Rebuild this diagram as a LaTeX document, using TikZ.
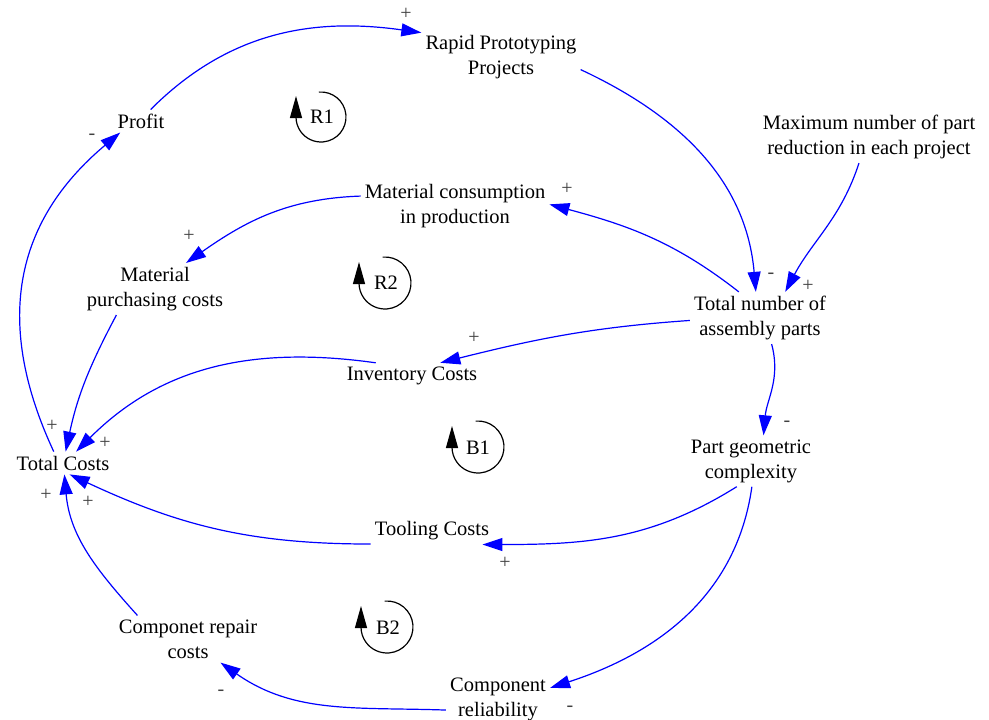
\documentclass[tikz,border=0pt]{standalone}
\usepackage{fontspec}
\setmainfont{Liberation Serif}
\usetikzlibrary{arrows.meta}
\begin{document}
\begin{tikzpicture}[x=1pt,y=1pt,
  var/.style={font=\fontsize{20.5}{25}\selectfont, align=center, inner sep=4pt},
  link/.style={draw=blue, line width=1.2pt, -{Triangle[length=20pt,width=13pt]}},
  sgn/.style={font=\fontsize{20}{24}\selectfont, text=black!75, inner sep=0pt},
  loopsym/.style={line width=1.2pt, -{Triangle[length=22pt,width=12pt]}},
  looplbl/.style={font=\fontsize{20.5}{25}\selectfont, inner sep=0pt}
]
\useasboundingbox (0,0) rectangle (989,-720);

% variables
\node[var] (rpp)    at (501,-57)  {Rapid Prototyping\\Projects};
\node[var] (profit) at (141,-121) {Profit};
\node[var] (maxn)   at (869,-137) {Maximum number of part\\reduction in each project};
\node[var] (matc)   at (455,-206) {Material consumption\\in production};
\node[var] (matp)   at (155,-289) {Material\\purchasing costs};
\node[var] (tnap)   at (760,-318) {Total number of\\assembly parts};
\node[var] (inv)    at (412,-376) {Inventory Costs};
\node[var] (tc)     at (63,-463)  {Total Costs};
\node[var] (pgc)    at (751,-461) {Part geometric\\complexity};
\node[var] (tool)   at (432,-531) {Tooling Costs};
\node[var] (crc)    at (188,-639) {Componet repair\\costs};
\node[var] (cr)     at (498,-699) {Component\\reliability};

% causal links
\draw[link] (profit.50)  to[out=45,in=172]   (rpp.163);
\draw[link] (rpp.-9)     to[out=-25,in=95]   (tnap.99);
\draw[link] (maxn.-111)  to[out=-108,in=62]  (tnap.46);
\draw[link] (tnap.129)   to[out=142,in=-15]  (matc.1);
\draw[link] (matc.174)   to[out=182,in=35]   (matp.40);
\draw[link] (matp.-146)  to[out=-118,in=78]  (tc.77);
\draw[link] (tnap.182)   to[out=184,in=14]   (inv.25);
\draw[link] (inv.160)    to[out=172,in=45]   (tc.41);
\draw[link] (tnap.-66)   to[out=-75,in=85]   (pgc.64);
\draw[link] (tc.129)     to[out=115,in=-140,looseness=1.1] (profit.-151);
\draw[link] (pgc.-119)   to[out=-148,in=0]   (tool.-15);
\draw[link] (tool.-168)  to[out=180,in=-25]  (tc.-60);
\draw[link] (pgc.-88)    to[out=-98,in=18]   (cr.12);
\draw[link] (cr.-168)    to[out=178,in=-35]  (crc.-36);
\draw[link] (crc.155)    to[out=132,in=-85]  (tc.-83);

% link polarities
\node[sgn] (s1)  at (406,-14)  {+};
\node[sgn] (s2)  at (771,-276) {-};
\node[sgn] (s3)  at (808,-286) {+};
\node[sgn] (s4)  at (567,-189) {+};
\node[sgn] (s5)  at (189,-236) {+};
\node[sgn] (s6)  at (52,-426)  {+};
\node[sgn] (s7)  at (474,-338) {+};
\node[sgn] (s8)  at (105,-443) {+};
\node[sgn] (s9)  at (787,-424) {-};
\node[sgn] (s10) at (92,-137)  {-};
\node[sgn] (s11) at (505,-563) {+};
\node[sgn] (s12) at (88,-502)  {+};
\node[sgn] (s13) at (570,-709) {-};
\node[sgn] (s14) at (221,-693) {-};
\node[sgn] (s15) at (46,-495)  {+};

% loop identifiers
\draw[loopsym] (321,-117) ++(95:25) arc[start angle=95,end angle=-180,radius=25] -- ++(0,21);
\node[looplbl] (r1) at (322,-117) {R1};
\draw[loopsym] (385,-283) ++(95:26) arc[start angle=95,end angle=-180,radius=26] -- ++(0,21);
\node[looplbl] (r2) at (386,-283) {R2};
\draw[loopsym] (478,-447) ++(95:26) arc[start angle=95,end angle=-180,radius=26] -- ++(0,21);
\node[looplbl] (b1) at (478,-448) {B1};
\draw[loopsym] (387,-627) ++(95:26) arc[start angle=95,end angle=-180,radius=26] -- ++(0,21);
\node[looplbl] (b2) at (388,-628) {B2};
\end{tikzpicture}
\end{document}
